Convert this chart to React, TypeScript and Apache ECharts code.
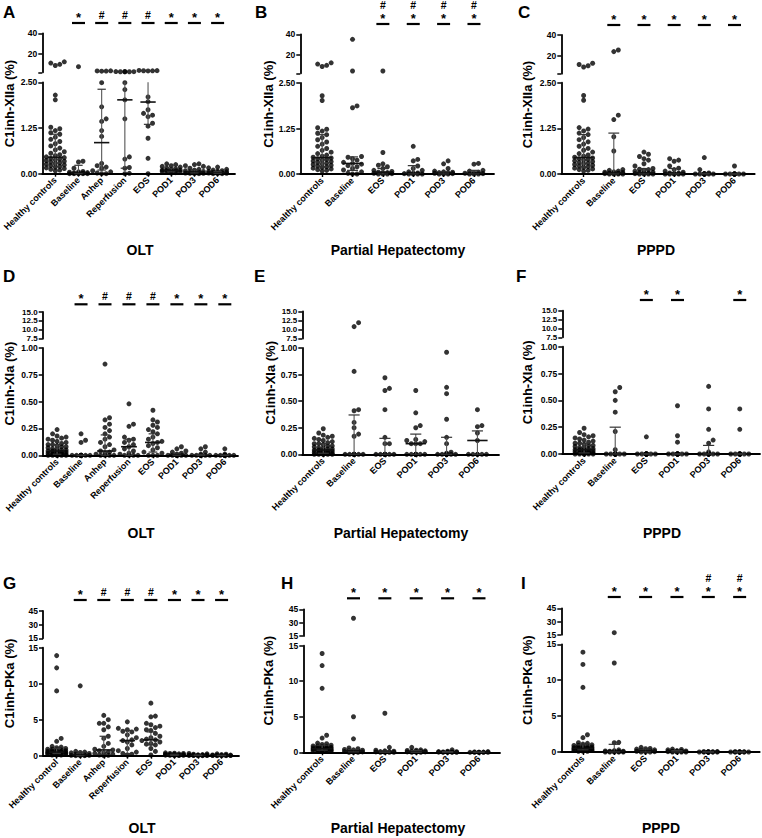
import React, { useEffect, useRef } from "react";
import * as echarts from "echarts";

const FONT = "'Liberation Sans', Arial, Helvetica, sans-serif";

// ---- categories ----
const oltGroups = ["Healthy controls", "Baseline", "Anhep", "Reperfusion", "EOS", "POD1", "POD3", "POD6"];
const oltGroupsPKa = ["Healthy control", "Baseline", "Anhep", "Reperfusion", "EOS", "POD1", "POD3", "POD6"];
const resectionGroups = ["Healthy controls", "Baseline", "EOS", "POD1", "POD3", "POD6"];

// ---- axis ticks (lower and upper segment of each broken axis) ----
const xiiaLowTicks = [0, 1.25, 2.5];
const xiiaUpTicks = [2.5, 20, 40];
const xiiaUpLabels = [20, 40];
const xiaLowTicks = [0, 0.25, 0.5, 0.75, 1];
const xiaUpTicks = [7.5, 10, 12.5, 15];
const pkaLowTicks = [0, 5, 10, 15];
const pkaUpTicks = [15, 30, 45];

// ---- C1inh-XIIa (%) ----
const hcXIIa = [12.6, 11.4, 10.2, 9.0, 2.15, 2.02, 1.27, 1.23, 1.18, 1.12, 1.08, 1.0, 0.94, 0.88, 0.82, 0.76, 0.7, 0.65, 0.6, 0.56, 0.52, 0.49, 0.46, 0.44, 0.42, 0.4, 0.38, 0.36, 0.34, 0.32, 0.3, 0.28, 0.26, 0.24, 0.22, 0.2, 0.18, 0.16, 0.14, 0.12, 0.1, 0.08];
const oltXIIa = [
  hcXIIa,
  [7.9, 0.34, 0.32, 0.15, 0.06, 0.05, 0.04, 0.03, 0.02, 0.02, 0.01, 0, 0, 0, 0, 0],
  [3.9, 3.8, 3.7, 3.6, 2.49, 1.83, 1.5, 1.43, 1.18, 1.02, 0.28, 0.22, 0.18, 0.15, 0.08, 0.05, 0.02, 0, 0],
  [3.3, 3.2, 3.1, 3.0, 3.0, 2.9, 2.49, 2.3, 2.02, 1.5, 0.46, 0.4, 0.17, 0.15, 0.01, 0],
  [4.3, 4.1, 4.0, 3.9, 3.8, 2.1, 1.97, 1.75, 1.65, 1.6, 1.56, 1.38, 1.3, 0.97, 0.42, 0],
  [0.27, 0.25, 0.22, 0.2, 0.18, 0.15, 0.13, 0.12, 0.1, 0.1, 0.09, 0.08, 0.07, 0.06, 0.05, 0.04, 0.03, 0.02],
  [0.27, 0.25, 0.22, 0.2, 0.15, 0.12, 0.1, 0.08, 0.06, 0.05, 0.04, 0.03, 0.02, 0.01, 0.01, 0, 0],
  [0.18, 0.16, 0.12, 0.1, 0.08, 0.07, 0.06, 0.05, 0.04, 0.03, 0.03, 0.02, 0.01, 0, 0, 0],
];
const phXIIa = [
  hcXIIa,
  [35.2, 4.7, 1.87, 1.82, 0.48, 0.46, 0.42, 0.38, 0.32, 0.29, 0.27, 0.23, 0.2, 0.15, 0.11, 0.06, 0.02, 0, 0],
  [4.7, 0.59, 0.28, 0.24, 0.2, 0.15, 0.1, 0.07, 0.05, 0.04, 0.03, 0.02, 0.01, 0, 0, 0],
  [0.76, 0.4, 0.36, 0.22, 0.15, 0.1, 0.06, 0.03, 0.02, 0.01, 0, 0, 0, 0],
  [0.36, 0.28, 0.15, 0.08, 0.06, 0.05, 0.04, 0.03, 0.02, 0.02, 0.01, 0, 0, 0],
  [0.29, 0.27, 0.1, 0.08, 0.05, 0.03, 0.02, 0.01, 0, 0, 0],
];
const ppXIIa = [
  hcXIIa,
  [25.5, 23.9, 1.61, 1.49, 1.02, 0.63, 0.12, 0.1, 0.08, 0.06, 0.05, 0.04, 0.03, 0.02, 0.02, 0.01, 0, 0, 0, 0],
  [0.6, 0.54, 0.48, 0.42, 0.38, 0.28, 0.22, 0.15, 0.13, 0.12, 0.1, 0.08, 0.05, 0.04, 0.03, 0.02, 0.01, 0, 0, 0, 0],
  [0.42, 0.38, 0.35, 0.22, 0.16, 0.12, 0.08, 0.05, 0.03, 0.02, 0.01, 0, 0, 0, 0, 0],
  [0.45, 0.12, 0.03, 0.01, 0, 0, 0, 0, 0, 0, 0, 0],
  [0.22, 0, 0, 0, 0, 0, 0, 0, 0, 0],
];
// [median, lower quartile, upper quartile]
const hcXIIaStats = [0.45, 0.2, 1.08];
const oltXIIaStats = [hcXIIaStats, [0.02, 0, 0.23], [0.85, 0.1, 2.31], [2.02, 0.15, 3], [1.96, 1.35, 3], [0.09, 0.05, 0.15], [0.05, 0.02, 0.1], [0.03, 0.01, 0.06]];
const phXIIaStats = [hcXIIaStats, [0.29, 0.1, 0.47], [0.05, 0, 0.15], [0.02, 0, 0.23], [0.03, 0, 0.06], [0.02, 0, 0.1]];
const ppXIIaStats = [hcXIIaStats, [0.03, 0, 1.12], [0.03, 0, 0.15], [0.02, 0, 0.15], [0, 0, 0.02], [0, 0, 0]];

// ---- C1inh-XIa (%) ----
const hcXIa = [0.24, 0.2, 0.18, 0.17, 0.16, 0.15, 0.14, 0.13, 0.12, 0.11, 0.1, 0.1, 0.09, 0.08, 0.08, 0.07, 0.06, 0.06, 0.05, 0.05, 0.04, 0.04, 0.04, 0.03, 0.03, 0.03, 0.02, 0.02, 0.02, 0.02, 0.01, 0.01, 0.01, 0.01, 0, 0, 0, 0, 0, 0];
const oltXIa = [
  hcXIa,
  [0.2, 0.14, 0.12, 0, 0, 0, 0, 0, 0, 0, 0, 0, 0, 0],
  [0.85, 0.35, 0.33, 0.29, 0.26, 0.23, 0.2, 0.17, 0.15, 0.12, 0.1, 0.08, 0.05, 0.04, 0.03, 0.02, 0.01, 0, 0, 0, 0],
  [0.48, 0.29, 0.27, 0.17, 0.15, 0.14, 0.12, 0.1, 0.08, 0.06, 0.04, 0.02, 0.01, 0, 0, 0, 0],
  [0.42, 0.33, 0.31, 0.28, 0.26, 0.24, 0.22, 0.2, 0.17, 0.15, 0.13, 0.12, 0.11, 0.09, 0.07, 0.05, 0.03, 0.02, 0, 0, 0],
  [0.08, 0.06, 0.04, 0.03, 0.02, 0.01, 0, 0, 0, 0, 0, 0, 0, 0],
  [0.08, 0.06, 0.03, 0.01, 0, 0, 0, 0, 0, 0, 0, 0],
  [0.06, 0.01, 0, 0, 0, 0, 0, 0, 0, 0, 0],
];
const phXIa = [
  hcXIa,
  [11.9, 10.8, 0.78, 0.42, 0.41, 0.3, 0.25, 0.19, 0.17, 0, 0, 0, 0, 0, 0, 0, 0, 0],
  [0.72, 0.62, 0.6, 0.42, 0.16, 0.1, 0.1, 0, 0, 0, 0, 0, 0, 0, 0, 0],
  [0.6, 0.39, 0.27, 0.25, 0.14, 0.13, 0.12, 0.1, 0.1, 0.1, 0, 0, 0, 0, 0, 0, 0, 0, 0],
  [0.96, 0.63, 0.57, 0.33, 0.16, 0.1, 0.02, 0.01, 0, 0, 0, 0, 0, 0, 0, 0, 0],
  [0.42, 0.27, 0.26, 0.2, 0.13, 0, 0, 0, 0, 0, 0],
];
const ppXIa = [
  hcXIa,
  [0.62, 0.58, 0.5, 0.39, 0.21, 0.04, 0, 0, 0, 0, 0, 0, 0, 0, 0, 0],
  [0.16, 0, 0, 0, 0, 0, 0, 0, 0, 0, 0, 0],
  [0.45, 0.17, 0.11, 0, 0, 0, 0, 0, 0, 0, 0, 0, 0],
  [0.63, 0.42, 0.23, 0.13, 0.1, 0.02, 0, 0, 0, 0, 0, 0, 0, 0, 0],
  [0.42, 0.23, 0, 0, 0, 0, 0, 0, 0, 0, 0],
];
const hcXIaStats = [0.04, 0.01, 0.1];
const oltXIaStats = [hcXIaStats, [0, 0, 0], [0.04, 0, 0.19], [0.08, 0, 0.15], [0.12, 0.03, 0.2], [0.01, 0, 0.02], [0, 0, 0.01], [0, 0, 0]];
const phXIaStats = [hcXIaStats, [0, 0, 0.37], [0, 0, 0.15], [0.1, 0, 0.19], [0, 0, 0.16], [0.13, 0, 0.22]];
const ppXIaStats = [hcXIaStats, [0, 0, 0.25], [0, 0, 0], [0, 0, 0], [0, 0, 0.08], [0, 0, 0]];

// ---- C1inh-PKa (%) ----
const hcPKa = [13.9, 12.2, 9.0, 2.4, 2.0, 1.3, 1.2, 1.1, 1.0, 0.9, 0.9, 0.8, 0.8, 0.7, 0.7, 0.6, 0.6, 0.6, 0.5, 0.5, 0.5, 0.5, 0.4, 0.4, 0.4, 0.4, 0.3, 0.3, 0.3, 0.3, 0.2, 0.2, 0.2, 0.1, 0.1, 0.1];
const oltPKa = [
  hcPKa,
  [9.7, 0.6, 0.5, 0.45, 0.4, 0.3, 0.2, 0.1, 0.1, 0.05, 0.05, 0, 0, 0],
  [5.6, 5.0, 4.5, 4.5, 4.0, 3.6, 2.7, 2.4, 1.7, 1.3, 0.9, 0.8, 0.7, 0.5, 0.4, 0.3, 0.2, 0.1, 0.05, 0],
  [4.7, 3.8, 3.7, 3.6, 3.4, 3.3, 2.9, 2.5, 2.2, 2.1, 1.9, 1.5, 1.0, 0.7, 0.5, 0.3, 0.2, 0.1],
  [7.3, 5.5, 5.4, 4.5, 4.3, 4.1, 3.9, 3.6, 3.5, 3.1, 2.7, 2.5, 2.3, 2.2, 2.1, 1.9, 1.7, 1.6, 1.5, 1.0, 0.6, 0.1],
  [0.4, 0.35, 0.3, 0.3, 0.25, 0.2, 0.2, 0.15, 0.15, 0.1, 0.1, 0.08, 0.05, 0.05, 0.02, 0],
  [0.3, 0.25, 0.2, 0.15, 0.12, 0.1, 0.1, 0.08, 0.06, 0.05, 0.04, 0.03, 0.02, 0.01, 0],
  [0.25, 0.2, 0.15, 0.1, 0.08, 0.06, 0.05, 0.04, 0.03, 0.02, 0.01, 0, 0],
];
const phPKa = [
  hcPKa,
  [34.9, 5.0, 1.9, 0.6, 0.5, 0.4, 0.35, 0.3, 0.2, 0.15, 0.1, 0.1, 0.05, 0, 0, 0],
  [5.5, 0.7, 0.3, 0.2, 0.15, 0.1, 0.1, 0.05, 0.05, 0, 0, 0, 0],
  [0.7, 0.35, 0.3, 0.25, 0.2, 0.15, 0.1, 0.1, 0.05, 0.05, 0, 0, 0],
  [0.35, 0.15, 0.1, 0.08, 0.05, 0.05, 0.03, 0.02, 0, 0, 0, 0],
  [0.1, 0.05, 0.03, 0.02, 0, 0, 0, 0, 0, 0],
];
const ppPKa = [
  hcPKa,
  [17.3, 12.4, 1.35, 1.3, 0.3, 0.2, 0.15, 0.1, 0.1, 0.05, 0.05, 0, 0, 0, 0, 0],
  [0.65, 0.5, 0.45, 0.4, 0.3, 0.25, 0.2, 0.15, 0.1, 0.05, 0, 0, 0],
  [0.4, 0.35, 0.3, 0.2, 0.15, 0.1, 0.1, 0.05, 0.05, 0, 0, 0, 0],
  [0.05, 0.03, 0.02, 0.01, 0, 0, 0, 0, 0, 0, 0, 0],
  [0.03, 0.02, 0.01, 0, 0, 0, 0, 0, 0, 0],
];
const hcPKaStats = [0.5, 0.3, 1.0];
const oltPKaStats = [hcPKaStats, [0.1, 0, 0.35], [0.8, 0.2, 2.7], [2.1, 0.3, 3.5], [2.2, 1.5, 3.3], [0.12, 0.05, 0.2], [0.06, 0.02, 0.1], [0.04, 0.01, 0.06]];
const phPKaStats = [hcPKaStats, [0.2, 0.05, 0.4], [0.1, 0, 0.2], [0.1, 0, 0.25], [0.05, 0, 0.1], [0, 0, 0.03]];
const ppPKaStats = [hcPKaStats, [0.1, 0, 1.07], [0.15, 0, 0.4], [0.1, 0, 0.2], [0, 0, 0.01], [0, 0, 0]];

// ---- significance marks above each group ----
const oltSig = ["", "*", "#", "#", "#", "*", "*", "*"];
const phXIIaSig = ["", "", "#*", "#*", "#*", "#*"];
const ppXIIaSig = ["", "*", "*", "*", "*", "*"];
const phXIaSig = ["", "", "", "", "", ""];
const ppXIaSig = ["", "", "*", "*", "", "*"];
const phPKaSig = ["", "*", "*", "*", "*", "*"];
const ppPKaSig = ["", "*", "*", "*", "*#", "*#"];

type Box = {
  left: number; right: number; upTop: number; upBot: number; lowTop: number; lowBot: number;
  xMin: number; xMax: number; letterX: number; letterY: number; titleX: number; nameX: number; nameY: number; barY: number;
};
type Panel = {
  letter: string; cats: string[]; groups: number[][]; stats: number[][]; sig: string[];
  yTitle: string; xTitle: string;
  lowMax: number; lowTicks: number[]; lowDigits: number;
  upMin: number; upMax: number; upTicks: number[]; upLabels: number[]; upDigits: number;
  box: Box;
};

const xiiaAxis = { lowMax: 2.5, lowTicks: xiiaLowTicks, lowDigits: 2, upMin: 2.5, upMax: 40, upTicks: xiiaUpTicks, upLabels: xiiaUpLabels, upDigits: 0 };
const xiaAxis = { lowMax: 1, lowTicks: xiaLowTicks, lowDigits: 2, upMin: 7.5, upMax: 15, upTicks: xiaUpTicks, upLabels: xiaUpTicks, upDigits: 1 };
const pkaAxis = { lowMax: 15, lowTicks: pkaLowTicks, lowDigits: 0, upMin: 15, upMax: 45, upTicks: pkaUpTicks, upLabels: pkaUpTicks, upDigits: 0 };

const panels: Panel[] = [
  { letter: "A", cats: oltGroups, groups: oltXIIa, stats: oltXIIaStats, sig: oltSig, yTitle: "C1inh-XIIa (%)", xTitle: "OLT", ...xiiaAxis,
    box: { left: 42.3, right: 235, upTop: 33.3, upBot: 72.3, lowTop: 82.3, lowBot: 173.7, xMin: -0.56, xMax: 7.75, letterX: 3, letterY: 4, titleX: 9, nameX: 140, nameY: 250, barY: 23 } },
  { letter: "B", cats: resectionGroups, groups: phXIIa, stats: phXIIaStats, sig: phXIIaSig, yTitle: "C1inh-XIIa (%)", xTitle: "Partial Hepatectomy", ...xiiaAxis,
    box: { left: 300.3, right: 494, upTop: 34.3, upBot: 73.3, lowTop: 83, lowBot: 174, xMin: -0.72, xMax: 5.66, letterX: 255, letterY: 4, titleX: 268, nameX: 398, nameY: 250, barY: 24 } },
  { letter: "C", cats: resectionGroups, groups: ppXIIa, stats: ppXIIaStats, sig: ppXIIaSig, yTitle: "C1inh-XIIa (%)", xTitle: "PPPD", ...xiiaAxis,
    box: { left: 561.3, right: 754.7, upTop: 35, upBot: 73.7, lowTop: 82.7, lowBot: 174, xMin: -0.74, xMax: 5.67, letterX: 518, letterY: 4, titleX: 527, nameX: 656, nameY: 250, barY: 25 } },
  { letter: "D", cats: oltGroups, groups: oltXIa, stats: oltXIaStats, sig: oltSig, yTitle: "C1inh-XIa (%)", xTitle: "OLT", ...xiaAxis,
    box: { left: 42.7, right: 238, upTop: 312, upBot: 338.7, lowTop: 348, lowBot: 455.3, xMin: -0.6, xMax: 7.55, letterX: 3, letterY: 268, titleX: 9, nameX: 141, nameY: 533, barY: 304.3 } },
  { letter: "E", cats: resectionGroups, groups: phXIa, stats: phXIaStats, sig: phXIaSig, yTitle: "C1inh-XIa (%)", xTitle: "Partial Hepatectomy", ...xiaAxis,
    box: { left: 302.3, right: 499, upTop: 311.5, upBot: 338.5, lowTop: 348, lowBot: 454.3, xMin: -0.68, xMax: 5.7, letterX: 254, letterY: 268, titleX: 270, nameX: 401, nameY: 533, barY: 302 } },
  { letter: "F", cats: resectionGroups, groups: ppXIa, stats: ppXIaStats, sig: ppXIaSig, yTitle: "C1inh-XIa (%)", xTitle: "PPPD", ...xiaAxis,
    box: { left: 562.3, right: 760, upTop: 310.7, upBot: 337.3, lowTop: 346.7, lowBot: 454, xMin: -0.7, xMax: 5.65, letterX: 516, letterY: 268, titleX: 527, nameX: 662, nameY: 533, barY: 300 } },
  { letter: "G", cats: oltGroupsPKa, groups: oltPKa, stats: oltPKaStats, sig: oltSig, yTitle: "C1inh-PKa (%)", xTitle: "OLT", ...pkaAxis,
    box: { left: 43, right: 239, upTop: 611, upBot: 638.3, lowTop: 647.7, lowBot: 755.7, xMin: -0.58, xMax: 7.74, letterX: 3, letterY: 575, titleX: 9, nameX: 142, nameY: 828, barY: 600 } },
  { letter: "H", cats: resectionGroups, groups: phPKa, stats: phPKaStats, sig: phPKaSig, yTitle: "C1inh-PKa (%)", xTitle: "Partial Hepatectomy", ...pkaAxis,
    box: { left: 303.3, right: 500, upTop: 609.3, upBot: 636, lowTop: 645.7, lowBot: 752.3, xMin: -0.6, xMax: 5.67, letterX: 281, letterY: 575, titleX: 268, nameX: 398, nameY: 828, barY: 598.3 } },
  { letter: "I", cats: resectionGroups, groups: ppPKa, stats: ppPKaStats, sig: ppPKaSig, yTitle: "C1inh-PKa (%)", xTitle: "PPPD", ...pkaAxis,
    box: { left: 561.3, right: 759.7, upTop: 608.3, upBot: 634.7, lowTop: 644.3, lowBot: 752, xMin: -0.69, xMax: 5.64, letterX: 521, letterY: 575, titleX: 527, nameX: 661, nameY: 828, barY: 597 } },
];

const DOT = 5;

// Beeswarm-style horizontal spreading so that dots with similar values sit side by side.
function swarmOffsets(vals: number[], toPx: (v: number) => number, catPx: number): number[] {
  const order = vals.map((_, i) => i).sort((a, b) => vals[a] - vals[b]);
  const placed: { x: number; y: number }[] = [];
  const offs = new Array(vals.length).fill(0);
  const step = DOT * 0.9;
  const minDist = DOT * 0.9;
  const maxK = Math.max(1, Math.floor((0.42 * catPx) / step));
  for (const i of order) {
    const y = toPx(vals[i]);
    let best = 0;
    let bestGap = -Infinity;
    for (let n = 0; n <= 2 * maxK; n++) {
      const k = n === 0 ? 0 : n % 2 ? (n + 1) / 2 : -n / 2;
      const x = k * step;
      let gap = Infinity;
      for (const p of placed) gap = Math.min(gap, Math.hypot(p.x - x, p.y - y));
      if (gap >= minDist) { best = x; bestGap = gap; break; }
      if (gap > bestGap + 0.01) { bestGap = gap; best = x; }
    }
    placed.push({ x: best, y });
    offs[i] = best / catPx;
  }
  return offs;
}

const axisLine = { show: true, onZero: false, lineStyle: { color: "#000", width: 1.8 } };
const tickLabel = { color: "#000", fontSize: 8.5, fontWeight: "bold" as const, fontFamily: FONT, hideOverlap: false, showMinLabel: true, showMaxLabel: true };

function textEl(text: string, x: number, y: number, size: number) {
  return {
    type: "text", x, y, silent: true,
    style: {
      text, fill: "#000", font: `bold ${size}px ${FONT}`,
      align: "center", verticalAlign: "middle", textAlign: "center", textVerticalAlign: "middle",
    },
  };
}

function buildOption() {
  const grid: any[] = [];
  const xAxis: any[] = [];
  const yAxis: any[] = [];
  const series: any[] = [];
  const graphic: any[] = [];

  panels.forEach((p, i) => {
    const b = p.box;
    const w = b.right - b.left;
    const upH = b.upBot - b.upTop;
    const lowH = b.lowBot - b.lowTop;
    const gU = 2 * i;
    const gL = 2 * i + 1;
    grid.push({ left: b.left, top: b.upTop, width: w, height: upH, outerBoundsMode: "none" });
    grid.push({ left: b.left, top: b.lowTop, width: w, height: lowH, outerBoundsMode: "none" });

    const catIdx = p.cats.map((_, k) => k);
    xAxis.push({ type: "value", gridIndex: gU, min: b.xMin, max: b.xMax, show: false });
    xAxis.push({
      type: "value", gridIndex: gL, min: b.xMin, max: b.xMax,
      axisLine, splitLine: { show: false },
      axisTick: { show: true, length: 3, lineStyle: { color: "#000", width: 1.4 }, customValues: catIdx },
      axisLabel: {
        ...tickLabel, fontSize: 9, rotate: 45, margin: 5,
        customValues: catIdx,
        formatter: (v: number) => p.cats[Math.round(v)] ?? "",
      },
    });

    yAxis.push({
      type: "value", gridIndex: gU, min: p.upMin, max: p.upMax,
      axisLine, splitLine: { show: false },
      axisTick: { show: true, length: 4, lineStyle: { color: "#000", width: 1.5 }, customValues: p.upTicks },
      axisLabel: { ...tickLabel, fontSize: p.upDigits ? 8 : 8.5, margin: 5, customValues: p.upLabels, formatter: (v: number) => v.toFixed(p.upDigits) },
    });
    yAxis.push({
      type: "value", gridIndex: gL, min: 0, max: p.lowMax,
      axisLine, splitLine: { show: false },
      axisTick: { show: true, length: 4, lineStyle: { color: "#000", width: 1.5 }, customValues: p.lowTicks },
      axisLabel: { ...tickLabel, margin: 5, customValues: p.lowTicks, formatter: (v: number) => v.toFixed(p.lowDigits) },
    });

    // dots, spread horizontally within each group
    const catPx = w / (b.xMax - b.xMin);
    const toPx = (v: number) =>
      v <= p.lowMax ? (v * lowH) / p.lowMax : lowH + 10 + ((v - p.upMin) * upH) / (p.upMax - p.upMin);
    const lowPts: number[][] = [];
    const upPts: number[][] = [];
    p.groups.forEach((vals, gi) => {
      const offs = swarmOffsets(vals, toPx, catPx);
      vals.forEach((v, j) => (v > p.lowMax ? upPts : lowPts).push([gi + offs[j], v]));
    });
    const dotStyle = { type: "scatter", symbol: "circle", symbolSize: DOT, silent: true, clip: false, itemStyle: { color: "#000" }, z: 3 };
    series.push({ ...dotStyle, xAxisIndex: gL, yAxisIndex: gL, data: lowPts });
    series.push({ ...dotStyle, xAxisIndex: gU, yAxisIndex: gU, data: upPts });

    // median with interquartile range
    series.push({
      type: "custom", xAxisIndex: gL, yAxisIndex: gL, silent: true, z: 4,
      encode: { x: 0, y: [1, 2, 3] },
      data: p.stats.map((s, gi) => [gi, s[0], s[1], s[2]]),
      renderItem: (_params: any, api: any) => {
        const gi = api.value(0);
        const med = api.value(1);
        const q1 = api.value(2);
        const q3 = api.value(3);
        const clipped = q3 > p.lowMax;
        const pm = api.coord([gi, med]);
        const pl = api.coord([gi, q1]);
        const pu = api.coord([gi, Math.min(q3, p.lowMax)]);
        const cat = api.size([1, 0])[0];
        const mh = cat * 0.33;
        const ch = cat * 0.18;
        const kids: any[] = [
          { type: "line", shape: { x1: pm[0], y1: pl[1], x2: pm[0], y2: pu[1] }, style: { stroke: "#555", lineWidth: 1.1 } },
          { type: "line", shape: { x1: pm[0] - mh, y1: pm[1], x2: pm[0] + mh, y2: pm[1] }, style: { stroke: "#111", lineWidth: 1.6 } },
          { type: "line", shape: { x1: pm[0] - ch, y1: pl[1], x2: pm[0] + ch, y2: pl[1] }, style: { stroke: "#333", lineWidth: 1.2 } },
        ];
        if (!clipped)
          kids.push({ type: "line", shape: { x1: pm[0] - ch, y1: pu[1], x2: pm[0] + ch, y2: pu[1] }, style: { stroke: "#333", lineWidth: 1.2 } });
        return { type: "group", children: kids };
      },
    });

    // significance marks
    const marked = p.sig.map((s, gi) => [gi, 0, s ? 1 : 0]).filter((d) => d[2] === 1);
    if (marked.length) {
      series.push({
        type: "custom", xAxisIndex: gL, yAxisIndex: gL, silent: true, z: 5,
        encode: { x: 0, y: 1 },
        data: marked,
        renderItem: (_params: any, api: any) => {
          const gi = api.value(0);
          const mark = p.sig[gi];
          const x = api.coord([gi, 0])[0];
          const y = b.barY;
          const kids: any[] = [
            { type: "line", shape: { x1: x - 6.5, y1: y, x2: x + 6.5, y2: y }, style: { stroke: "#000", lineWidth: 2.2 } },
          ];
          const hasStar = mark.includes("*");
          if (hasStar) kids.push(textEl("*", x, y - 6, 13));
          if (mark.includes("#")) kids.push(textEl("#", x, hasStar ? y - 19 : y - 8, 10.5));
          return { type: "group", children: kids };
        },
      });
    }

    // panel letter, axis titles
    graphic.push({
      type: "text", x: b.letterX, y: b.letterY, silent: true,
      style: { text: p.letter, fill: "#000", font: `bold 17px ${FONT}`, align: "left", verticalAlign: "top", textAlign: "left", textVerticalAlign: "top" },
    });
    graphic.push({
      type: "text", x: b.titleX, y: (b.upTop + b.lowBot) / 2, rotation: Math.PI / 2, silent: true,
      style: { text: p.yTitle, fill: "#000", font: `bold 13px ${FONT}`, align: "center", verticalAlign: "middle", textAlign: "center", textVerticalAlign: "middle" },
    });
    graphic.push({
      type: "text", x: b.nameX, y: b.nameY, silent: true,
      style: { text: p.xTitle, fill: "#000", font: `bold 14px ${FONT}`, align: "center", verticalAlign: "middle", textAlign: "center", textVerticalAlign: "middle" },
    });
  });

  return { animation: false, backgroundColor: "#fff", grid, xAxis, yAxis, series, graphic };
}

export default function App() {
  const ref = useRef<HTMLDivElement>(null);
  useEffect(() => {
    document.body.style.margin = "0";
    const chart = echarts.init(ref.current!, undefined, { renderer: "svg" });
    chart.setOption(buildOption() as any);
    return () => chart.dispose();
  }, []);
  return <div ref={ref} style={{ width: 762, height: 838, background: "#fff" }} />;
}
